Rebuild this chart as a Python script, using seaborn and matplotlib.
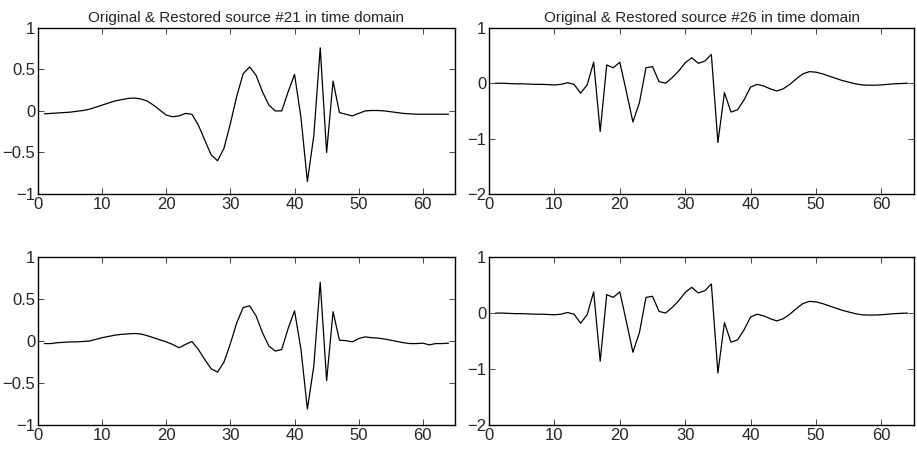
import numpy as np
import pandas as pd
import matplotlib
matplotlib.use("Agg")
import matplotlib.pyplot as plt
import seaborn as sns
from matplotlib.ticker import FuncFormatter

# ──────────────────────────────────────────────────────────────
# Data
# ──────────────────────────────────────────────────────────────

n = np.arange(1, 65)

orig_21 = [
    -0.035, -0.03, -0.025, -0.02, -0.015, -0.005, 0.005, 0.02, 0.045, 0.07,
    0.095, 0.12, 0.135, 0.15, 0.155, 0.145, 0.12, 0.07, 0.01, -0.05,
    -0.07, -0.06, -0.03, -0.04, -0.17, -0.35, -0.53, -0.60, -0.45, -0.15,
    0.18, 0.45, 0.53, 0.43, 0.23, 0.07, 0.0, 0.0, 0.23, 0.44,
    -0.08, -0.85, -0.30, 0.76, -0.50, 0.36, -0.02, -0.04, -0.06, -0.03,
    0.0, 0.005, 0.005, 0.0, -0.01, -0.02, -0.03, -0.035, -0.04, -0.04,
    -0.04, -0.04, -0.04, -0.04,
]

rest_21 = [
    -0.03, -0.03, -0.02, -0.015, -0.01, -0.01, -0.005, 0.0, 0.02, 0.04,
    0.055, 0.07, 0.08, 0.085, 0.09, 0.085, 0.065, 0.04, 0.015, -0.01,
    -0.04, -0.08, -0.04, -0.005, -0.10, -0.22, -0.33, -0.37, -0.25, -0.03,
    0.22, 0.40, 0.42, 0.30, 0.10, -0.06, -0.12, -0.10, 0.15, 0.36,
    -0.10, -0.81, -0.30, 0.70, -0.47, 0.35, 0.01, 0.005, -0.01, 0.03,
    0.05, 0.04, 0.035, 0.025, 0.01, -0.005, -0.02, -0.03, -0.03, -0.025,
    -0.045, -0.03, -0.03, -0.025,
]

orig_26 = [
    0.0, 0.0, -0.005, -0.01, -0.01, -0.015, -0.02, -0.02, -0.025, -0.03,
    -0.02, 0.01, -0.02, -0.18, -0.03, 0.38, -0.87, 0.33, 0.28, 0.38,
    -0.15, -0.70, -0.35, 0.28, 0.30, 0.03, 0.0, 0.10, 0.22, 0.37,
    0.46, 0.36, 0.40, 0.52, -1.07, -0.17, -0.52, -0.48, -0.30, -0.07,
    -0.02, -0.05, -0.10, -0.14, -0.10, -0.02, 0.08, 0.17, 0.21, 0.20,
    0.17, 0.13, 0.09, 0.05, 0.02, -0.01, -0.03, -0.035, -0.035, -0.03,
    -0.02, -0.01, -0.005, 0.0,
]

rest_26 = [
    0.0, 0.0, -0.005, -0.01, -0.01, -0.015, -0.02, -0.02, -0.025, -0.03,
    -0.02, 0.01, -0.02, -0.18, -0.03, 0.38, -0.86, 0.33, 0.28, 0.38,
    -0.15, -0.70, -0.35, 0.28, 0.30, 0.03, 0.0, 0.10, 0.22, 0.37,
    0.46, 0.36, 0.40, 0.52, -1.07, -0.17, -0.52, -0.48, -0.30, -0.07,
    -0.02, -0.05, -0.10, -0.14, -0.10, -0.02, 0.08, 0.17, 0.21, 0.20,
    0.17, 0.13, 0.09, 0.05, 0.02, -0.01, -0.03, -0.035, -0.035, -0.03,
    -0.02, -0.01, -0.005, 0.0,
]

titles = [
    "Original & Restored source #21 in time domain",
    "Original & Restored source #26 in time domain",
]
x_ticks = [0, 10, 20, 30, 40, 50, 60]
y_ticks_21 = [-1, -0.5, 0, 0.5, 1]
y_ticks_26 = [-2, -1, 0, 1]

# ──────────────────────────────────────────────────────────────
# Style (MATLAB-like boxed axes, inward ticks)
# ──────────────────────────────────────────────────────────────

sns.set_style("ticks")
plt.rcParams["font.family"] = ["Liberation Sans", "DejaVu Sans"]
plt.rcParams.update({
    "xtick.direction": "in", "ytick.direction": "in",
    "xtick.top": True, "ytick.right": True,
    "xtick.major.size": 4, "ytick.major.size": 4,
    "xtick.major.width": 0.6, "ytick.major.width": 0.6,
    "axes.linewidth": 1.0, "axes.edgecolor": "black",
    "xtick.labelsize": 12, "ytick.labelsize": 12,
})

fig = plt.figure(figsize=(9.17, 4.5), dpi=100)
axes = [
    fig.add_axes([0.0414, 0.569, 0.4547, 0.369]),
    fig.add_axes([0.5333, 0.569, 0.4635, 0.369]),
    fig.add_axes([0.0414, 0.0556, 0.4547, 0.373]),
    fig.add_axes([0.5333, 0.0556, 0.4635, 0.373]),
]

panels = [
    (orig_21, y_ticks_21, titles[0]),
    (orig_26, y_ticks_26, titles[1]),
    (rest_21, y_ticks_21, None),
    (rest_26, y_ticks_26, None),
]

fmt = FuncFormatter(lambda v, _: f"{v:g}".replace("-", "\u2212"))

for ax, (vals, yt, title) in zip(axes, panels):
    df = pd.DataFrame({"n": n, "value": vals})
    sns.lineplot(data=df, x="n", y="value", ax=ax, color="black", linewidth=0.9)
    ax.set_xlim(0, 65)
    ax.set_ylim(yt[0], yt[-1])
    ax.set_xticks(x_ticks)
    ax.set_yticks(yt)
    ax.xaxis.set_major_formatter(fmt)
    ax.yaxis.set_major_formatter(fmt)
    ax.set_xlabel(""); ax.set_ylabel("")
    ax.tick_params(pad=2)
    if title:
        ax.set_title(title, fontsize=11, pad=4)

plt.savefig("out.png", dpi=100)
plt.close()
